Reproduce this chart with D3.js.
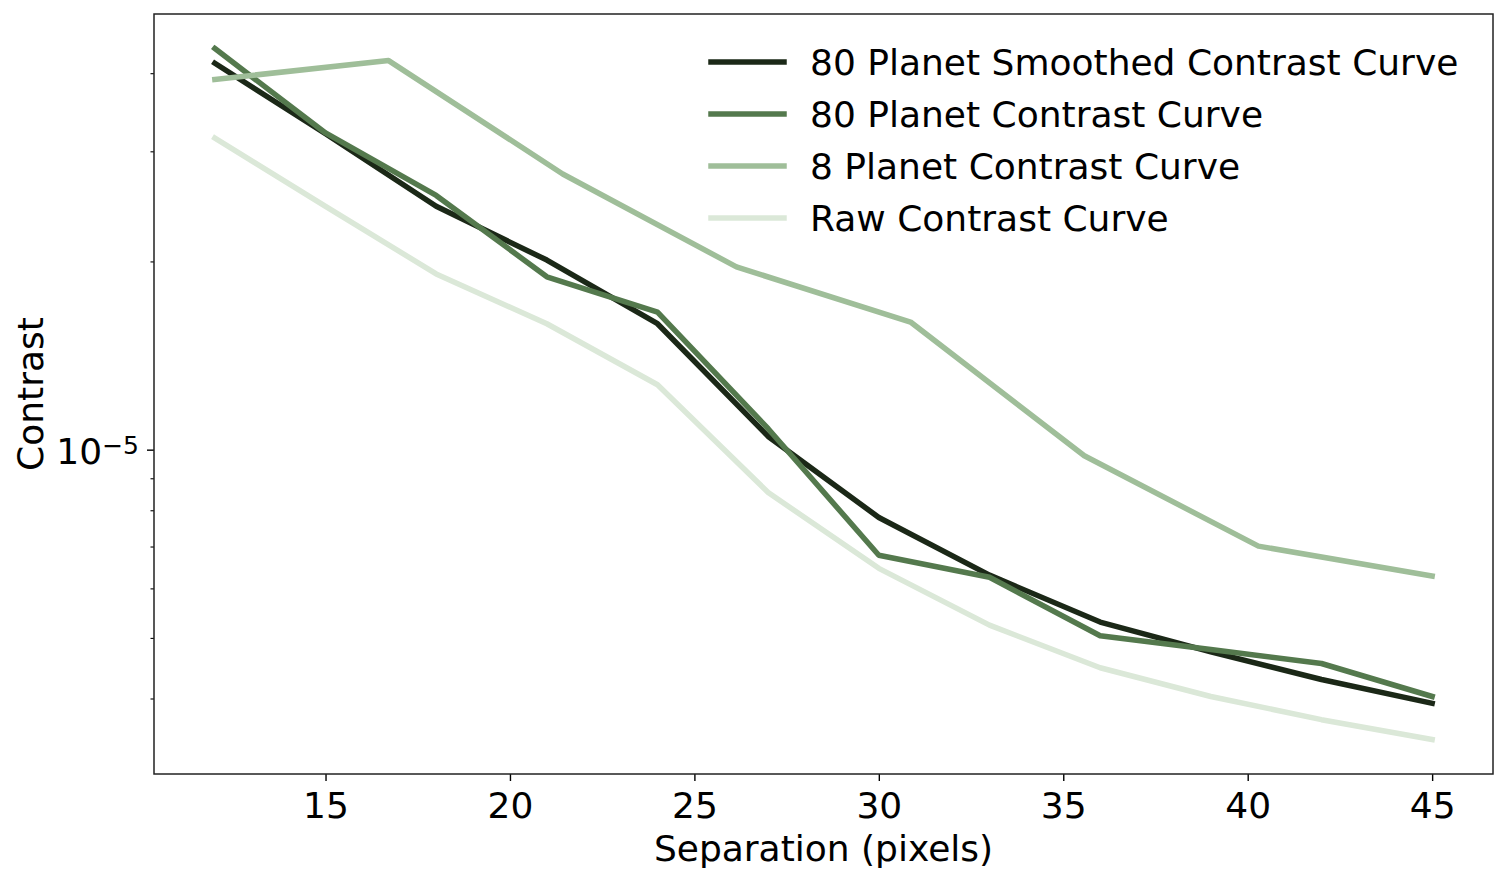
<!DOCTYPE html>
<html>
<head>
<meta charset="utf-8">
<script src="https://cdn.jsdelivr.net/npm/d3@7"></script>
<style>
body { margin: 0; background: #fff; }
text { font-family: "DejaVu Sans", sans-serif; fill: #000; }
</style>
</head>
<body>
<div id="chart"></div>
<script>
// separations (pixels)
const sep = [12, 15, 18, 21, 24, 27, 30, 33, 36, 39, 42, 45];
const sep8 = [12, 16.71, 21.43, 26.14, 30.86, 35.57, 40.29, 45];

// contrast curves
const smoothed80 = [4.15e-5, 3.20e-5, 2.45e-5, 2.01e-5, 1.59e-5, 1.05e-5, 7.79e-6, 6.30e-6, 5.30e-6, 4.75e-6, 4.29e-6, 3.93e-6];
const planet80 = [4.38e-5, 3.21e-5, 2.55e-5, 1.89e-5, 1.66e-5, 1.08e-5, 6.78e-6, 6.25e-6, 5.04e-6, 4.79e-6, 4.55e-6, 4.03e-6];
const planet8 = [3.91e-5, 4.19e-5, 2.76e-5, 1.96e-5, 1.60e-5, 9.78e-6, 7.01e-6, 6.28e-6];
const raw = [3.15e-5, 2.45e-5, 1.91e-5, 1.59e-5, 1.27e-5, 8.54e-6, 6.46e-6, 5.24e-6, 4.48e-6, 4.03e-6, 3.70e-6, 3.44e-6];

const labels = ['80 Planet Smoothed Contrast Curve', '80 Planet Contrast Curve', '8 Planet Contrast Curve', 'Raw Contrast Curve'];
const colors = ['#1b2817', '#54794d', '#9fbe99', '#dbe8d8'];

const xTicks = [15, 20, 25, 30, 35, 40, 45];
const yMajorTicks = [1e-5];
const yMinorTicks = [4e-6, 5e-6, 6e-6, 7e-6, 8e-6, 9e-6, 2e-5, 3e-5, 4e-5];

let margin = {top: 14, right: 14, bottom: 105, left: 154};
let width = 1507 - margin.left - margin.right;
let height = 879 - margin.top - margin.bottom;
let fs = 36;

let series = [
    {x: sep, y: smoothed80},
    {x: sep, y: planet80},
    {x: sep8, y: planet8},
    {x: sep, y: raw}
];

let allX = series.flatMap(s => s.x);
let allY = series.flatMap(s => s.y);
let xExt = d3.extent(allX);
let xPad = (xExt[1] - xExt[0]) * 0.05;
let yExt = d3.extent(allY).map(Math.log10);
let yPad = (yExt[1] - yExt[0]) * 0.05;

let svg = d3.select('#chart').append('svg')
    .attr('width', 1507)
    .attr('height', 879)
    .append('g')
    .attr('transform', 'translate(' + margin.left + ',' + margin.top + ')');

let x = d3.scaleLinear()
    .domain([xExt[0] - xPad, xExt[1] + xPad])
    .range([0, width]);
let y = d3.scaleLog()
    .domain([Math.pow(10, yExt[0] - yPad), Math.pow(10, yExt[1] + yPad)])
    .range([height, 0]);

let line = d3.line()
    .x(d => x(d[0]))
    .y(d => y(d[1]));

series.forEach(function(s, i) { // one path per curve
    svg.append('path')
        .datum(s.x.map((v, j) => [v, s.y[j]]))
        .attr('fill', 'none')
        .attr('stroke', colors[i])
        .attr('stroke-width', 5.5)
        .attr('stroke-linejoin', 'round')
        .attr('stroke-linecap', 'square')
        .attr('d', line);
});

let xAxis = svg.append('g') // x axis
    .attr('transform', 'translate(0,' + height + ')')
    .call(d3.axisBottom(x).tickValues(xTicks).tickSize(7).tickSizeOuter(0).tickPadding(11).tickFormat(d3.format('d')));
xAxis.select('.domain').remove();
xAxis.selectAll('line').attr('stroke', '#000').attr('stroke-width', 1.4);
xAxis.selectAll('text').style('font-size', fs + 'px');

let yMinor = svg.append('g') // y minor ticks
    .call(d3.axisLeft(y).tickValues(yMinorTicks).tickSize(3.5).tickFormat(''));
yMinor.select('.domain').remove();
yMinor.selectAll('line').attr('stroke', '#000').attr('stroke-width', 1.1);

let yAxis = svg.append('g') // y major ticks
    .call(d3.axisLeft(y).tickValues(yMajorTicks).tickSize(7).tickFormat(''));
yAxis.select('.domain').remove();
yAxis.selectAll('line').attr('stroke', '#000').attr('stroke-width', 1.4);
yAxis.selectAll('.tick').append('text') // 10^-5 label
    .attr('x', -15)
    .attr('y', 14)
    .attr('text-anchor', 'end')
    .style('font-size', fs + 'px')
    .each(function(d) {
        let t = d3.select(this);
        let e = Math.round(Math.log10(d));
        t.append('tspan').text('10');
        t.append('tspan').attr('dy', -10).style('font-size', '25px').text('\u2212' + Math.abs(e));
    });

svg.append('rect') // frame
    .attr('x', 0)
    .attr('y', 0)
    .attr('width', width)
    .attr('height', height)
    .attr('fill', 'none')
    .attr('stroke', '#222')
    .attr('stroke-width', 1.5);

svg.append('text') // x label
    .attr('x', width / 2)
    .attr('y', height + 87)
    .attr('text-anchor', 'middle')
    .style('font-size', fs + 'px')
    .text('Separation (pixels)');

svg.append('text') // y label
    .attr('transform', 'rotate(-90)')
    .attr('x', -height / 2)
    .attr('y', -111)
    .attr('text-anchor', 'middle')
    .style('font-size', fs + 'px')
    .text('Contrast');

let legend = svg.append('g')
    .attr('transform', 'translate(' + (711 - margin.left) + ',' + (62 - margin.top) + ')');
labels.forEach(function(l, i) {
    legend.append('line')
        .attr('x1', 0)
        .attr('x2', 73)
        .attr('y1', i * 52)
        .attr('y2', i * 52)
        .attr('stroke', colors[i])
        .attr('stroke-width', 5.5)
        .attr('stroke-linecap', 'square');
    legend.append('text')
        .attr('x', 99)
        .attr('y', i * 52 + 13)
        .style('font-size', fs + 'px')
        .text(l);
});
</script>
</body>
</html>
